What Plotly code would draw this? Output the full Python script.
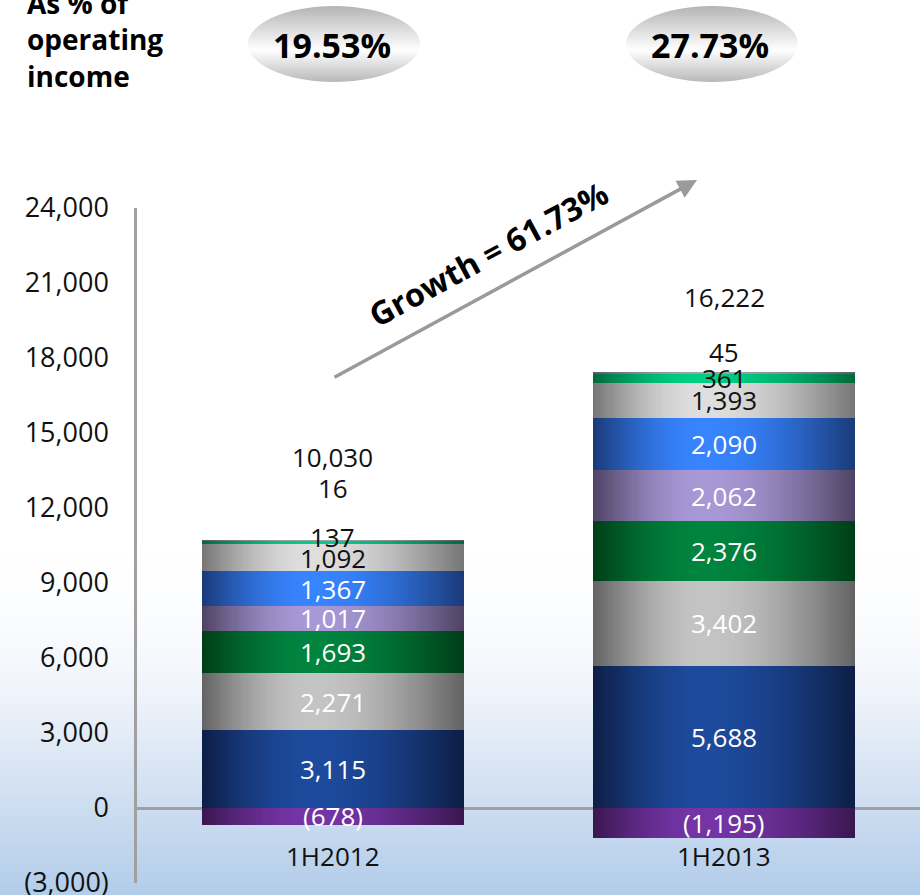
import base64
import math
import plotly.graph_objects as go

periods = ["1H2012", "1H2013"]

# stacked segments, bottom to top
segment_values = [
    [-678, -1195],
    [3115, 5688],
    [2271, 3402],
    [1693, 2376],
    [1017, 2062],
    [1367, 2090],
    [1092, 1393],
    [137, 361],
    [16, 45],
]
totals = [10030, 16222]
share_of_income = ["19.53%", "27.73%"]
growth_label = "Growth = 61.73%"
y_tick_vals = [-3000, 0, 3000, 6000, 9000, 12000, 15000, 18000, 21000, 24000]
y_tick_text = ["(3,000)", "0", "3,000", "6,000", "9,000", "12,000", "15,000",
               "18,000", "21,000", "24,000"]

# (edge colour, centre colour, label colour) per segment
seg_style = [
    ("#3a174f", "#7434a6", "#ffffff"),
    ("#0d1e45", "#1d4a9c", "#ffffff"),
    ("#626262", "#c4c4c4", "#ffffff"),
    ("#003d18", "#00843e", "#ffffff"),
    ("#4e4363", "#a898d6", "#ffffff"),
    ("#1a3a78", "#3784ff", "#ffffff"),
    ("#757575", "#dedede", "#111111"),
    ("#006a3a", "#00d084", "#111111"),
    ("#5a5a6a", "#a0a0b0", "#111111"),
]
# extra lift (px) for labels of thin segments
label_lift = [[0, 0]] * 7 + [[5, 0], [53, 21]]
total_lift = [83, 76]

W, H = 920, 895
L, R, T, B = 137, 0, 208, 12
PW, PH = W - L - R, H - T - B


def px(x):
    return (x - L) / PW


def py(y):
    return (H - B - y) / PH


def mix(c1, c2, f):
    a = [int(c1[i:i + 2], 16) for i in (1, 3, 5)]
    b = [int(c2[i:i + 2], 16) for i in (1, 3, 5)]
    return "rgb(%d,%d,%d)" % tuple(round(a[i] + (b[i] - a[i]) * f) for i in range(3))


def svg_uri(svg):
    return "data:image/svg+xml;base64," + base64.b64encode(svg.encode()).decode()


fig = go.Figure()

bar_w = 0.67
n_slices = 120
peak = 0.42
step = bar_w / n_slices

pos_base = [0, 0]
bases = []
for vals in segment_values:
    b = []
    for j, v in enumerate(vals):
        if v < 0:
            b.append(0)
        else:
            b.append(pos_base[j])
            pos_base[j] += v
    bases.append(b)

# flatten segments so one trace = one vertical slice of every bar
xs, ys, bs, seg_idx = [], [], [], []
for i, vals in enumerate(segment_values):
    for j, v in enumerate(vals):
        xs.append(periods[j])
        ys.append(v)
        bs.append(bases[i][j])
        seg_idx.append(i)

# horizontal gradient: each bar is drawn as thin overlapping slices
for k in range(n_slices):
    t = (k + 0.5) / n_slices
    d = abs(t - peak) / (peak if t < peak else 1 - peak)
    f = math.cos(d * math.pi / 2)
    cols = [mix(seg_style[i][0], seg_style[i][1], f) for i in seg_idx]
    fig.add_trace(go.Bar(
        x=xs, y=ys, base=bs,
        width=step * (2 if k < n_slices - 1 else 1),
        offset=-bar_w / 2 + k * step,
        marker=dict(color=cols, line=dict(width=0)),
        showlegend=False, hoverinfo="skip",
    ))

annotations = []
for i, vals in enumerate(segment_values):
    for j, v in enumerate(vals):
        txt = "(%s)" % f"{abs(v):,}" if v < 0 else f"{v:,}"
        annotations.append(dict(
            x=periods[j], y=bases[i][j] + v / 2, text=txt, showarrow=False,
            yshift=label_lift[i][j],
            font=dict(size=26, color=seg_style[i][2]),
        ))

for j, p in enumerate(periods):
    annotations.append(dict(x=p, y=pos_base[j], text=f"{totals[j]:,}", showarrow=False,
                            yshift=total_lift[j], font=dict(size=26, color="#111111")))
    annotations.append(dict(x=p, y=-1900, text=p, showarrow=False,
                            font=dict(size=26, color="#111111")))

annotations.append(dict(
    xref="paper", yref="paper", x=px(25), y=py(40), xanchor="left", yanchor="middle",
    text="<b>As % of<br>operating<br>income</b>", align="left", showarrow=False,
    font=dict(size=28, color="#000000"),
))

ellipse_x = [334, 712]
ell = ('<svg xmlns="http://www.w3.org/2000/svg" width="172" height="76">'
       '<defs><linearGradient id="g" x1="0" y1="0" x2="0" y2="1">'
       '<stop offset="0" stop-color="#b4b4b4"/><stop offset="0.58" stop-color="#ffffff"/>'
       '<stop offset="1" stop-color="#b8b8b8"/></linearGradient></defs>'
       '<ellipse cx="86" cy="38" rx="86" ry="38" fill="url(#g)"/></svg>')
images = []
for j, ex in enumerate(ellipse_x):
    images.append(dict(source=svg_uri(ell), xref="paper", yref="paper",
                       x=px(ex - 86), y=py(6), sizex=172 / PW, sizey=76 / PH,
                       xanchor="left", yanchor="top", sizing="stretch", layer="above"))
    annotations.append(dict(xref="paper", yref="paper", x=px(ex - 2), y=py(45),
                            xanchor="center", yanchor="middle",
                            text="<b>%s</b>" % share_of_income[j], showarrow=False,
                            font=dict(size=34, color="#000000")))

sky = ('<svg xmlns="http://www.w3.org/2000/svg" width="920" height="360">'
       '<defs><linearGradient id="s" x1="0" y1="0" x2="0" y2="1">'
       '<stop offset="0" stop-color="#ffffff" stop-opacity="0"/>'
       '<stop offset="0.45" stop-color="#eef3fa"/>'
       '<stop offset="1" stop-color="#b2cce9"/></linearGradient></defs>'
       '<rect width="920" height="360" fill="url(#s)"/></svg>')
images.append(dict(source=svg_uri(sky), xref="paper", yref="paper",
                   x=px(0), y=py(535), sizex=W / PW, sizey=360 / PH,
                   xanchor="left", yanchor="top", sizing="stretch", layer="below"))

annotations.append(dict(
    xref="paper", yref="paper", x=px(697), y=py(180), ax=-364, ay=198,
    text="", showarrow=True, arrowhead=2, arrowsize=1.1, arrowwidth=3.5,
    arrowcolor="#9a9a9a",
))
annotations.append(dict(
    xref="paper", yref="paper", x=px(488), y=py(253), xanchor="center", yanchor="middle",
    text="<b>%s</b>" % growth_label,
    textangle=-28.5, showarrow=False, font=dict(size=32, color="#000000"),
))

fig.update_layout(
    width=W, height=H,
    margin=dict(l=L, r=R, t=T, b=B),
    barmode="overlay",
    bargap=0,
    paper_bgcolor="#ffffff",
    plot_bgcolor="rgba(0,0,0,0)",
    font=dict(family="Open Sans", color="#111111"),
    showlegend=False,
    xaxis=dict(range=[-0.5, 1.5], showticklabels=False, showgrid=False,
               zeroline=False, showline=False, ticks="", automargin=False),
    yaxis=dict(range=[-3000, 24000], tickvals=y_tick_vals, ticktext=y_tick_text,
               showgrid=False, showline=True, linecolor="#a0a0a0", linewidth=2.5,
               zeroline=True, zerolinecolor="#a0a0a0", zerolinewidth=3,
               ticks="", ticklabelstandoff=20, ticklabeloverflow="allow",
               layer="above traces", automargin=False,
               tickfont=dict(size=27, color="#111111")),
    annotations=annotations,
    images=images,
)

fig.write_html("out.html", config={"displayModeBar": False},
               post_script="document.body.style.margin='0';")
